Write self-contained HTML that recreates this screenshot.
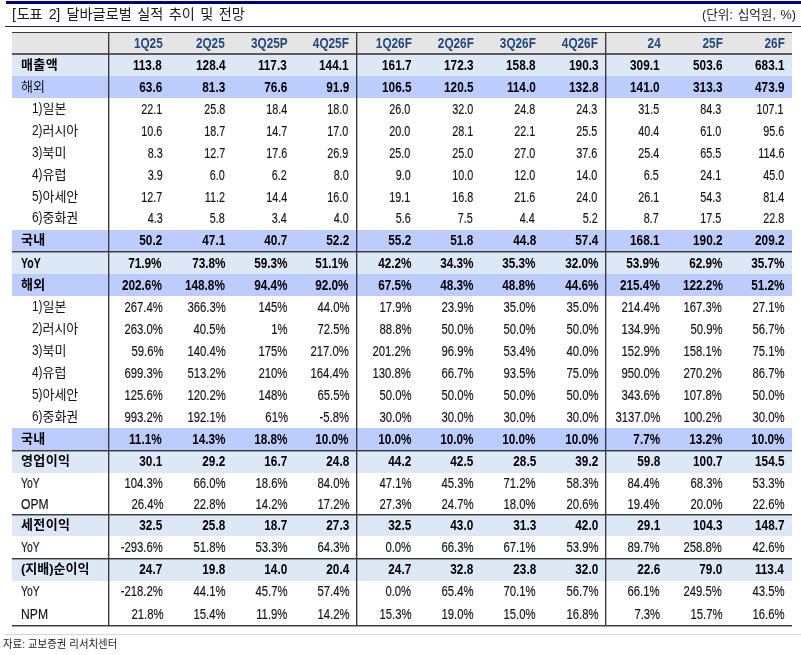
<!DOCTYPE html><html lang="ko"><head><meta charset="utf-8"><title>도표 2</title><style>
*{margin:0;padding:0;box-sizing:border-box}
html,body{width:801px;height:655px;background:#fff;overflow:hidden}
body{position:relative;font-family:"Liberation Sans","Noto Sans CJK KR",sans-serif;color:#111;font-size:15px}
.a{position:absolute}
.bg{position:absolute;left:12px;width:780px}
.hl{position:absolute;left:12px;width:780px;background:#3a3a3a}
.h2{height:2px;background:linear-gradient(to bottom,#3a3a3a 0,#3a3a3a 1px,rgba(58,58,58,.45) 1px,rgba(58,58,58,.45) 2px)}
.vl{position:absolute;top:32px;height:594px;width:2px;background:linear-gradient(to right,#383838 0,#383838 1px,rgba(56,56,56,.35) 1px,rgba(56,56,56,.35) 2px)}
.t{position:absolute;white-space:nowrap;line-height:20px;height:20px}
.n{text-align:right;transform-origin:100% 50%;transform:scaleX(.72)}
.n.pc{transform:scaleX(.755)}
.n,.e{-webkit-text-stroke:.15px #111}
.n.b,.e.b{-webkit-text-stroke:0}
.n.h{-webkit-text-stroke:0}
.n.b{transform:scaleX(.785)}
.b{font-weight:700;color:#000}
.n.h{font-weight:700;color:#1f497d;font-size:15px;transform:scaleX(.785)}
.l{transform-origin:0 50%}
.k{font-size:13px}
.k.b{letter-spacing:.4px}
.p{display:inline-block;line-height:1;position:relative;top:.9px;font-size:15px;transform:scaleX(.79);transform-origin:0 50%;margin-right:-2.9px}
.e{font-size:15px}
</style></head><body>
<div class="a" style="left:6px;top:1px;width:795px;height:3px;background:#000080"></div>
<div class="a" style="left:5px;top:26px;width:796px;height:1px;background:#1a1a8c"></div>
<div class="t l" id="title" style="left:12px;top:4.1px;font-size:14.2px;color:#1a1a1a;font-weight:400;word-spacing:1.5px"><span style="word-spacing:2.9px;letter-spacing:-.3px"><span style="margin-right:1px">[</span>도표 2] </span>달바글로벌 실적 추이 및 전망</div>
<div class="t" id="unit" style="right:5px;top:5px;font-size:12.6px;color:#1a1a1a;font-weight:400;word-spacing:1.2px">(단위: 십억원, %)</div>
<div class="bg" style="top:32px;height:22px;background:#e5e5e5"></div>
<div class="bg" style="top:54px;height:22px;background:#dce8f6"></div>
<div class="bg" style="top:76px;height:22px;background:#bccdfd"></div>
<div class="bg" style="top:230px;height:22px;background:#bccdfd"></div>
<div class="bg" style="top:252px;height:22px;background:#dce8f6"></div>
<div class="bg" style="top:274px;height:22px;background:#bccdfd"></div>
<div class="bg" style="top:428px;height:22px;background:#bccdfd"></div>
<div class="bg" style="top:450px;height:23px;background:#dce8f6"></div>
<div class="bg" style="top:514px;height:22px;background:#dce8f6"></div>
<div class="bg" style="top:558px;height:23px;background:#dce8f6"></div>
<div class="hl" style="top:32px;height:1px"></div>
<div class="hl" style="top:53px;height:2px;background:#5c5c5c"></div>
<div class="hl h2" style="top:251px"></div>
<div class="hl h2" style="top:450px"></div>
<div class="hl h2" style="top:514px"></div>
<div class="hl h2" style="top:558px"></div>
<div class="hl h2" style="top:625px"></div>
<div class="vl" style="left:108px"></div>
<div class="vl" style="left:356px"></div>
<div class="vl" style="left:605px"></div>
<div class="t n h" style="right:638.7px;top:33px">1Q25</div>
<div class="t n h" style="right:576.3px;top:33px">2Q25</div>
<div class="t n h" style="right:513.2px;top:33px">3Q25P</div>
<div class="t n h" style="right:452.3px;top:33px">4Q25F</div>
<div class="t n h" style="right:389.5px;top:33px">1Q26F</div>
<div class="t n h" style="right:327.2px;top:33px">2Q26F</div>
<div class="t n h" style="right:265.1px;top:33px">3Q26F</div>
<div class="t n h" style="right:202.9px;top:33px">4Q26F</div>
<div class="t n h" style="right:140.6px;top:33px">24</div>
<div class="t n h" style="right:78.6px;top:33px">25F</div>
<div class="t n h" style="right:16.4px;top:33px">26F</div>
<div class="t l k b" style="left:21px;top:54.6px">매출액</div>
<div class="t n b" style="right:639.0px;top:55.0px">113.8</div>
<div class="t n b" style="right:575.9px;top:55.0px">128.4</div>
<div class="t n b" style="right:513.8px;top:55.0px">117.3</div>
<div class="t n b" style="right:452.2px;top:55.0px">144.1</div>
<div class="t n b" style="right:389.4px;top:55.0px">161.7</div>
<div class="t n b" style="right:327.8px;top:55.0px">172.3</div>
<div class="t n b" style="right:265.3px;top:55.0px">158.8</div>
<div class="t n b" style="right:202.8px;top:55.0px">190.3</div>
<div class="t n b" style="right:141.0px;top:55.0px">309.1</div>
<div class="t n b" style="right:78.5px;top:55.0px">503.6</div>
<div class="t n b" style="right:16.8px;top:55.0px">683.1</div>
<div class="t l k" style="left:21px;top:76.6px">해외</div>
<div class="t n b" style="right:639.0px;top:77.0px">63.6</div>
<div class="t n b" style="right:575.9px;top:77.0px">81.3</div>
<div class="t n b" style="right:513.8px;top:77.0px">76.6</div>
<div class="t n b" style="right:452.2px;top:77.0px">91.9</div>
<div class="t n b" style="right:389.4px;top:77.0px">106.5</div>
<div class="t n b" style="right:327.8px;top:77.0px">120.5</div>
<div class="t n b" style="right:265.3px;top:77.0px">114.0</div>
<div class="t n b" style="right:202.8px;top:77.0px">132.8</div>
<div class="t n b" style="right:141.0px;top:77.0px">141.0</div>
<div class="t n b" style="right:78.5px;top:77.0px">313.3</div>
<div class="t n b" style="right:16.8px;top:77.0px">473.9</div>
<div class="t l k" style="left:32px;top:98.6px"><span class="p">1)</span>일본</div>
<div class="t n" style="right:638.5px;top:99.0px">22.1</div>
<div class="t n" style="right:576.2px;top:99.0px">25.8</div>
<div class="t n" style="right:513.9px;top:99.0px">18.4</div>
<div class="t n" style="right:452.4px;top:99.0px">18.0</div>
<div class="t n" style="right:390.5px;top:99.0px">26.0</div>
<div class="t n" style="right:328.2px;top:99.0px">32.0</div>
<div class="t n" style="right:265.9px;top:99.0px">24.8</div>
<div class="t n" style="right:203.5px;top:99.0px">24.3</div>
<div class="t n" style="right:141.7px;top:99.0px">31.5</div>
<div class="t n" style="right:79.5px;top:99.0px">84.3</div>
<div class="t n" style="right:17.0px;top:99.0px">107.1</div>
<div class="t l k" style="left:32px;top:120.6px"><span class="p">2)</span>러시아</div>
<div class="t n" style="right:638.5px;top:121.0px">10.6</div>
<div class="t n" style="right:576.2px;top:121.0px">18.7</div>
<div class="t n" style="right:513.9px;top:121.0px">14.7</div>
<div class="t n" style="right:452.4px;top:121.0px">17.0</div>
<div class="t n" style="right:390.5px;top:121.0px">20.0</div>
<div class="t n" style="right:328.2px;top:121.0px">28.1</div>
<div class="t n" style="right:265.9px;top:121.0px">22.1</div>
<div class="t n" style="right:203.5px;top:121.0px">25.5</div>
<div class="t n" style="right:141.7px;top:121.0px">40.4</div>
<div class="t n" style="right:79.5px;top:121.0px">61.0</div>
<div class="t n" style="right:17.0px;top:121.0px">95.6</div>
<div class="t l k" style="left:32px;top:142.6px"><span class="p">3)</span>북미</div>
<div class="t n" style="right:638.5px;top:143.0px">8.3</div>
<div class="t n" style="right:576.2px;top:143.0px">12.7</div>
<div class="t n" style="right:513.9px;top:143.0px">17.6</div>
<div class="t n" style="right:452.4px;top:143.0px">26.9</div>
<div class="t n" style="right:390.5px;top:143.0px">25.0</div>
<div class="t n" style="right:328.2px;top:143.0px">25.0</div>
<div class="t n" style="right:265.9px;top:143.0px">27.0</div>
<div class="t n" style="right:203.5px;top:143.0px">37.6</div>
<div class="t n" style="right:141.7px;top:143.0px">25.4</div>
<div class="t n" style="right:79.5px;top:143.0px">65.5</div>
<div class="t n" style="right:17.0px;top:143.0px">114.6</div>
<div class="t l k" style="left:32px;top:164.6px"><span class="p">4)</span>유럽</div>
<div class="t n" style="right:638.5px;top:165.0px">3.9</div>
<div class="t n" style="right:576.2px;top:165.0px">6.0</div>
<div class="t n" style="right:513.9px;top:165.0px">6.2</div>
<div class="t n" style="right:452.4px;top:165.0px">8.0</div>
<div class="t n" style="right:390.5px;top:165.0px">9.0</div>
<div class="t n" style="right:328.2px;top:165.0px">10.0</div>
<div class="t n" style="right:265.9px;top:165.0px">12.0</div>
<div class="t n" style="right:203.5px;top:165.0px">14.0</div>
<div class="t n" style="right:141.7px;top:165.0px">6.5</div>
<div class="t n" style="right:79.5px;top:165.0px">24.1</div>
<div class="t n" style="right:17.0px;top:165.0px">45.0</div>
<div class="t l k" style="left:32px;top:186.6px"><span class="p">5)</span>아세안</div>
<div class="t n" style="right:638.5px;top:187.0px">12.7</div>
<div class="t n" style="right:576.2px;top:187.0px">11.2</div>
<div class="t n" style="right:513.9px;top:187.0px">14.4</div>
<div class="t n" style="right:452.4px;top:187.0px">16.0</div>
<div class="t n" style="right:390.5px;top:187.0px">19.1</div>
<div class="t n" style="right:328.2px;top:187.0px">16.8</div>
<div class="t n" style="right:265.9px;top:187.0px">21.6</div>
<div class="t n" style="right:203.5px;top:187.0px">24.0</div>
<div class="t n" style="right:141.7px;top:187.0px">26.1</div>
<div class="t n" style="right:79.5px;top:187.0px">54.3</div>
<div class="t n" style="right:17.0px;top:187.0px">81.4</div>
<div class="t l k" style="left:32px;top:207.6px"><span class="p">6)</span>중화권</div>
<div class="t n" style="right:638.5px;top:208.0px">4.3</div>
<div class="t n" style="right:576.2px;top:208.0px">5.8</div>
<div class="t n" style="right:513.9px;top:208.0px">3.4</div>
<div class="t n" style="right:452.4px;top:208.0px">4.0</div>
<div class="t n" style="right:390.5px;top:208.0px">5.6</div>
<div class="t n" style="right:328.2px;top:208.0px">7.5</div>
<div class="t n" style="right:265.9px;top:208.0px">4.4</div>
<div class="t n" style="right:203.5px;top:208.0px">5.2</div>
<div class="t n" style="right:141.7px;top:208.0px">8.7</div>
<div class="t n" style="right:79.5px;top:208.0px">17.5</div>
<div class="t n" style="right:17.0px;top:208.0px">22.8</div>
<div class="t l k b" style="left:21px;top:229.6px">국내</div>
<div class="t n b" style="right:639.0px;top:230.0px">50.2</div>
<div class="t n b" style="right:575.9px;top:230.0px">47.1</div>
<div class="t n b" style="right:513.8px;top:230.0px">40.7</div>
<div class="t n b" style="right:452.2px;top:230.0px">52.2</div>
<div class="t n b" style="right:389.4px;top:230.0px">55.2</div>
<div class="t n b" style="right:327.8px;top:230.0px">51.8</div>
<div class="t n b" style="right:265.3px;top:230.0px">44.8</div>
<div class="t n b" style="right:202.8px;top:230.0px">57.4</div>
<div class="t n b" style="right:141.0px;top:230.0px">168.1</div>
<div class="t n b" style="right:78.5px;top:230.0px">190.2</div>
<div class="t n b" style="right:16.8px;top:230.0px">209.2</div>
<div class="t l e b" style="left:21px;top:253.0px;transform:scaleX(0.7)">YoY</div>
<div class="t n b" style="right:639.0px;top:253.0px">71.9%</div>
<div class="t n b" style="right:575.9px;top:253.0px">73.8%</div>
<div class="t n b" style="right:513.8px;top:253.0px">59.3%</div>
<div class="t n b" style="right:452.2px;top:253.0px">51.1%</div>
<div class="t n b" style="right:389.4px;top:253.0px">42.2%</div>
<div class="t n b" style="right:327.8px;top:253.0px">34.3%</div>
<div class="t n b" style="right:265.3px;top:253.0px">35.3%</div>
<div class="t n b" style="right:202.8px;top:253.0px">32.0%</div>
<div class="t n b" style="right:141.0px;top:253.0px">53.9%</div>
<div class="t n b" style="right:78.5px;top:253.0px">62.9%</div>
<div class="t n b" style="right:16.8px;top:253.0px">35.7%</div>
<div class="t l k b" style="left:21px;top:274.6px">해외</div>
<div class="t n b" style="right:639.0px;top:275.0px">202.6%</div>
<div class="t n b" style="right:575.9px;top:275.0px">148.8%</div>
<div class="t n b" style="right:513.8px;top:275.0px">94.4%</div>
<div class="t n b" style="right:452.2px;top:275.0px">92.0%</div>
<div class="t n b" style="right:389.4px;top:275.0px">67.5%</div>
<div class="t n b" style="right:327.8px;top:275.0px">48.3%</div>
<div class="t n b" style="right:265.3px;top:275.0px">48.8%</div>
<div class="t n b" style="right:202.8px;top:275.0px">44.6%</div>
<div class="t n b" style="right:141.0px;top:275.0px">215.4%</div>
<div class="t n b" style="right:78.5px;top:275.0px">122.2%</div>
<div class="t n b" style="right:16.8px;top:275.0px">51.2%</div>
<div class="t l k" style="left:32px;top:296.6px"><span class="p">1)</span>일본</div>
<div class="t n pc" style="right:637.8px;top:297.0px">267.4%</div>
<div class="t n pc" style="right:575.5px;top:297.0px">366.3%</div>
<div class="t n pc" style="right:513.2px;top:297.0px">145%</div>
<div class="t n pc" style="right:451.7px;top:297.0px">44.0%</div>
<div class="t n pc" style="right:389.8px;top:297.0px">17.9%</div>
<div class="t n pc" style="right:327.6px;top:297.0px">23.9%</div>
<div class="t n pc" style="right:265.2px;top:297.0px">35.0%</div>
<div class="t n pc" style="right:202.8px;top:297.0px">35.0%</div>
<div class="t n pc" style="right:141.0px;top:297.0px">214.4%</div>
<div class="t n pc" style="right:78.8px;top:297.0px">167.3%</div>
<div class="t n pc" style="right:16.3px;top:297.0px">27.1%</div>
<div class="t l k" style="left:32px;top:318.6px"><span class="p">2)</span>러시아</div>
<div class="t n pc" style="right:637.8px;top:319.0px">263.0%</div>
<div class="t n pc" style="right:575.5px;top:319.0px">40.5%</div>
<div class="t n pc" style="right:513.2px;top:319.0px">1%</div>
<div class="t n pc" style="right:451.7px;top:319.0px">72.5%</div>
<div class="t n pc" style="right:389.8px;top:319.0px">88.8%</div>
<div class="t n pc" style="right:327.6px;top:319.0px">50.0%</div>
<div class="t n pc" style="right:265.2px;top:319.0px">50.0%</div>
<div class="t n pc" style="right:202.8px;top:319.0px">50.0%</div>
<div class="t n pc" style="right:141.0px;top:319.0px">134.9%</div>
<div class="t n pc" style="right:78.8px;top:319.0px">50.9%</div>
<div class="t n pc" style="right:16.3px;top:319.0px">56.7%</div>
<div class="t l k" style="left:32px;top:340.6px"><span class="p">3)</span>북미</div>
<div class="t n pc" style="right:637.8px;top:341.0px">59.6%</div>
<div class="t n pc" style="right:575.5px;top:341.0px">140.4%</div>
<div class="t n pc" style="right:513.2px;top:341.0px">175%</div>
<div class="t n pc" style="right:451.7px;top:341.0px">217.0%</div>
<div class="t n pc" style="right:389.8px;top:341.0px">201.2%</div>
<div class="t n pc" style="right:327.6px;top:341.0px">96.9%</div>
<div class="t n pc" style="right:265.2px;top:341.0px">53.4%</div>
<div class="t n pc" style="right:202.8px;top:341.0px">40.0%</div>
<div class="t n pc" style="right:141.0px;top:341.0px">152.9%</div>
<div class="t n pc" style="right:78.8px;top:341.0px">158.1%</div>
<div class="t n pc" style="right:16.3px;top:341.0px">75.1%</div>
<div class="t l k" style="left:32px;top:362.6px"><span class="p">4)</span>유럽</div>
<div class="t n pc" style="right:637.8px;top:363.0px">699.3%</div>
<div class="t n pc" style="right:575.5px;top:363.0px">513.2%</div>
<div class="t n pc" style="right:513.2px;top:363.0px">210%</div>
<div class="t n pc" style="right:451.7px;top:363.0px">164.4%</div>
<div class="t n pc" style="right:389.8px;top:363.0px">130.8%</div>
<div class="t n pc" style="right:327.6px;top:363.0px">66.7%</div>
<div class="t n pc" style="right:265.2px;top:363.0px">93.5%</div>
<div class="t n pc" style="right:202.8px;top:363.0px">75.0%</div>
<div class="t n pc" style="right:141.0px;top:363.0px">950.0%</div>
<div class="t n pc" style="right:78.8px;top:363.0px">270.2%</div>
<div class="t n pc" style="right:16.3px;top:363.0px">86.7%</div>
<div class="t l k" style="left:32px;top:384.6px"><span class="p">5)</span>아세안</div>
<div class="t n pc" style="right:637.8px;top:385.0px">125.6%</div>
<div class="t n pc" style="right:575.5px;top:385.0px">120.2%</div>
<div class="t n pc" style="right:513.2px;top:385.0px">148%</div>
<div class="t n pc" style="right:451.7px;top:385.0px">65.5%</div>
<div class="t n pc" style="right:389.8px;top:385.0px">50.0%</div>
<div class="t n pc" style="right:327.6px;top:385.0px">50.0%</div>
<div class="t n pc" style="right:265.2px;top:385.0px">50.0%</div>
<div class="t n pc" style="right:202.8px;top:385.0px">50.0%</div>
<div class="t n pc" style="right:141.0px;top:385.0px">343.6%</div>
<div class="t n pc" style="right:78.8px;top:385.0px">107.8%</div>
<div class="t n pc" style="right:16.3px;top:385.0px">50.0%</div>
<div class="t l k" style="left:32px;top:406.6px"><span class="p">6)</span>중화권</div>
<div class="t n pc" style="right:637.8px;top:407.0px">993.2%</div>
<div class="t n pc" style="right:575.5px;top:407.0px">192.1%</div>
<div class="t n pc" style="right:513.2px;top:407.0px">61%</div>
<div class="t n pc" style="right:451.7px;top:407.0px">-5.8%</div>
<div class="t n pc" style="right:389.8px;top:407.0px">30.0%</div>
<div class="t n pc" style="right:327.6px;top:407.0px">30.0%</div>
<div class="t n pc" style="right:265.2px;top:407.0px">30.0%</div>
<div class="t n pc" style="right:202.8px;top:407.0px">30.0%</div>
<div class="t n pc" style="right:141.0px;top:407.0px">3137.0%</div>
<div class="t n pc" style="right:78.8px;top:407.0px">100.2%</div>
<div class="t n pc" style="right:16.3px;top:407.0px">30.0%</div>
<div class="t l k b" style="left:21px;top:428.6px">국내</div>
<div class="t n b" style="right:639.0px;top:429.0px">11.1%</div>
<div class="t n b" style="right:575.9px;top:429.0px">14.3%</div>
<div class="t n b" style="right:513.8px;top:429.0px">18.8%</div>
<div class="t n b" style="right:452.2px;top:429.0px">10.0%</div>
<div class="t n b" style="right:389.4px;top:429.0px">10.0%</div>
<div class="t n b" style="right:327.8px;top:429.0px">10.0%</div>
<div class="t n b" style="right:265.3px;top:429.0px">10.0%</div>
<div class="t n b" style="right:202.8px;top:429.0px">10.0%</div>
<div class="t n b" style="right:141.0px;top:429.0px">7.7%</div>
<div class="t n b" style="right:78.5px;top:429.0px">13.2%</div>
<div class="t n b" style="right:16.8px;top:429.0px">10.0%</div>
<div class="t l k b" style="left:21px;top:450.6px">영업이익</div>
<div class="t n b" style="right:639.0px;top:451.0px">30.1</div>
<div class="t n b" style="right:575.9px;top:451.0px">29.2</div>
<div class="t n b" style="right:513.8px;top:451.0px">16.7</div>
<div class="t n b" style="right:452.2px;top:451.0px">24.8</div>
<div class="t n b" style="right:389.4px;top:451.0px">44.2</div>
<div class="t n b" style="right:327.8px;top:451.0px">42.5</div>
<div class="t n b" style="right:265.3px;top:451.0px">28.5</div>
<div class="t n b" style="right:202.8px;top:451.0px">39.2</div>
<div class="t n b" style="right:141.0px;top:451.0px">59.8</div>
<div class="t n b" style="right:78.5px;top:451.0px">100.7</div>
<div class="t n b" style="right:16.8px;top:451.0px">154.5</div>
<div class="t l e" style="left:21px;top:473.0px;transform:scaleX(0.69)">YoY</div>
<div class="t n pc" style="right:637.8px;top:473.0px">104.3%</div>
<div class="t n pc" style="right:575.5px;top:473.0px">66.0%</div>
<div class="t n pc" style="right:513.2px;top:473.0px">18.6%</div>
<div class="t n pc" style="right:451.7px;top:473.0px">84.0%</div>
<div class="t n pc" style="right:389.8px;top:473.0px">47.1%</div>
<div class="t n pc" style="right:327.6px;top:473.0px">45.3%</div>
<div class="t n pc" style="right:265.2px;top:473.0px">71.2%</div>
<div class="t n pc" style="right:202.8px;top:473.0px">58.3%</div>
<div class="t n pc" style="right:141.0px;top:473.0px">84.4%</div>
<div class="t n pc" style="right:78.8px;top:473.0px">68.3%</div>
<div class="t n pc" style="right:16.3px;top:473.0px">53.3%</div>
<div class="t l e" style="left:21px;top:494.0px;transform:scaleX(0.81)">OPM</div>
<div class="t n pc" style="right:637.8px;top:494.0px">26.4%</div>
<div class="t n pc" style="right:575.5px;top:494.0px">22.8%</div>
<div class="t n pc" style="right:513.2px;top:494.0px">14.2%</div>
<div class="t n pc" style="right:451.7px;top:494.0px">17.2%</div>
<div class="t n pc" style="right:389.8px;top:494.0px">27.3%</div>
<div class="t n pc" style="right:327.6px;top:494.0px">24.7%</div>
<div class="t n pc" style="right:265.2px;top:494.0px">18.0%</div>
<div class="t n pc" style="right:202.8px;top:494.0px">20.6%</div>
<div class="t n pc" style="right:141.0px;top:494.0px">19.4%</div>
<div class="t n pc" style="right:78.8px;top:494.0px">20.0%</div>
<div class="t n pc" style="right:16.3px;top:494.0px">22.6%</div>
<div class="t l k b" style="left:21px;top:514.6px">세전이익</div>
<div class="t n b" style="right:639.0px;top:515.0px">32.5</div>
<div class="t n b" style="right:575.9px;top:515.0px">25.8</div>
<div class="t n b" style="right:513.8px;top:515.0px">18.7</div>
<div class="t n b" style="right:452.2px;top:515.0px">27.3</div>
<div class="t n b" style="right:389.4px;top:515.0px">32.5</div>
<div class="t n b" style="right:327.8px;top:515.0px">43.0</div>
<div class="t n b" style="right:265.3px;top:515.0px">31.3</div>
<div class="t n b" style="right:202.8px;top:515.0px">42.0</div>
<div class="t n b" style="right:141.0px;top:515.0px">29.1</div>
<div class="t n b" style="right:78.5px;top:515.0px">104.3</div>
<div class="t n b" style="right:16.8px;top:515.0px">148.7</div>
<div class="t l e" style="left:21px;top:537.0px;transform:scaleX(0.69)">YoY</div>
<div class="t n pc" style="right:637.8px;top:537.0px">-293.6%</div>
<div class="t n pc" style="right:575.5px;top:537.0px">51.8%</div>
<div class="t n pc" style="right:513.2px;top:537.0px">53.3%</div>
<div class="t n pc" style="right:451.7px;top:537.0px">64.3%</div>
<div class="t n pc" style="right:389.8px;top:537.0px">0.0%</div>
<div class="t n pc" style="right:327.6px;top:537.0px">66.3%</div>
<div class="t n pc" style="right:265.2px;top:537.0px">67.1%</div>
<div class="t n pc" style="right:202.8px;top:537.0px">53.9%</div>
<div class="t n pc" style="right:141.0px;top:537.0px">89.7%</div>
<div class="t n pc" style="right:78.8px;top:537.0px">258.8%</div>
<div class="t n pc" style="right:16.3px;top:537.0px">42.6%</div>
<div class="t l k b" style="left:21px;top:558.6px;letter-spacing:0">(지배)순이익</div>
<div class="t n b" style="right:639.0px;top:559.0px">24.7</div>
<div class="t n b" style="right:575.9px;top:559.0px">19.8</div>
<div class="t n b" style="right:513.8px;top:559.0px">14.0</div>
<div class="t n b" style="right:452.2px;top:559.0px">20.4</div>
<div class="t n b" style="right:389.4px;top:559.0px">24.7</div>
<div class="t n b" style="right:327.8px;top:559.0px">32.8</div>
<div class="t n b" style="right:265.3px;top:559.0px">23.8</div>
<div class="t n b" style="right:202.8px;top:559.0px">32.0</div>
<div class="t n b" style="right:141.0px;top:559.0px">22.6</div>
<div class="t n b" style="right:78.5px;top:559.0px">79.0</div>
<div class="t n b" style="right:16.8px;top:559.0px">113.4</div>
<div class="t l e" style="left:21px;top:581.0px;transform:scaleX(0.69)">YoY</div>
<div class="t n pc" style="right:637.8px;top:581.0px">-218.2%</div>
<div class="t n pc" style="right:575.5px;top:581.0px">44.1%</div>
<div class="t n pc" style="right:513.2px;top:581.0px">45.7%</div>
<div class="t n pc" style="right:451.7px;top:581.0px">57.4%</div>
<div class="t n pc" style="right:389.8px;top:581.0px">0.0%</div>
<div class="t n pc" style="right:327.6px;top:581.0px">65.4%</div>
<div class="t n pc" style="right:265.2px;top:581.0px">70.1%</div>
<div class="t n pc" style="right:202.8px;top:581.0px">56.7%</div>
<div class="t n pc" style="right:141.0px;top:581.0px">66.1%</div>
<div class="t n pc" style="right:78.8px;top:581.0px">249.5%</div>
<div class="t n pc" style="right:16.3px;top:581.0px">43.5%</div>
<div class="t l e" style="left:21px;top:604.0px;transform:scaleX(0.81)">NPM</div>
<div class="t n pc" style="right:637.8px;top:604.0px">21.8%</div>
<div class="t n pc" style="right:575.5px;top:604.0px">15.4%</div>
<div class="t n pc" style="right:513.2px;top:604.0px">11.9%</div>
<div class="t n pc" style="right:451.7px;top:604.0px">14.2%</div>
<div class="t n pc" style="right:389.8px;top:604.0px">15.3%</div>
<div class="t n pc" style="right:327.6px;top:604.0px">19.0%</div>
<div class="t n pc" style="right:265.2px;top:604.0px">15.0%</div>
<div class="t n pc" style="right:202.8px;top:604.0px">16.8%</div>
<div class="t n pc" style="right:141.0px;top:604.0px">7.3%</div>
<div class="t n pc" style="right:78.8px;top:604.0px">15.7%</div>
<div class="t n pc" style="right:16.3px;top:604.0px">16.6%</div>
<div class="a" style="left:5px;top:634px;width:796px;height:1px;background:#d4d4d4"></div>
<div class="t l" id="foot" style="left:2.8px;top:633.5px;font-size:11.6px;transform:scaleX(.9);color:#1a1a1a;font-weight:400">자료: 교보증권 리서치센터</div>
</body></html>
